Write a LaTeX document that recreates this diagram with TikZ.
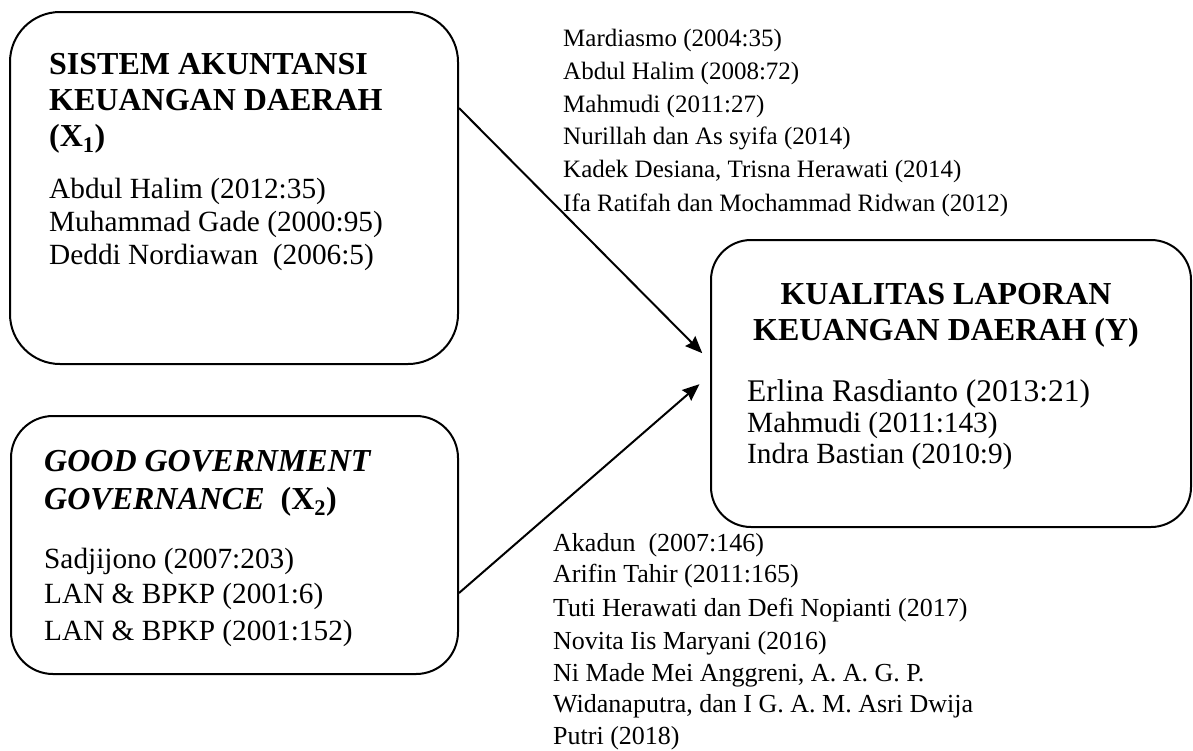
\documentclass[tikz,border=0pt]{standalone}
\usepackage{fontspec}
\setmainfont{Liberation Serif}
\usetikzlibrary{arrows.meta}
\begin{document}
\begin{tikzpicture}[x=1pt,y=-1pt,
  box/.style={draw, line width=2pt, inner sep=0pt},
  ttl/.style={anchor=base west, inner sep=0pt, font=\fontsize{32}{36}\selectfont\bfseries},
  ttlc/.style={anchor=base, inner sep=0pt, font=\fontsize{32}{36}\selectfont\bfseries},
  ref/.style={anchor=base west, inner sep=0pt, font=\fontsize{29.3}{33}\selectfont},
  refbig/.style={anchor=base west, inner sep=0pt, font=\fontsize{31.5}{35}\selectfont},
  topref/.style={anchor=base west, inner sep=0pt, font=\fontsize{25}{30}\selectfont},
  botref/.style={anchor=base west, inner sep=0pt, font=\fontsize{26}{30}\selectfont},
  arr/.style={line width=2pt, -{Stealth[inset=2pt,length=17pt,width=14pt]}}]
\useasboundingbox (0,0) rectangle (1193,750);
% boxes
\node[box, rounded corners=50pt, minimum width=448pt, minimum height=352pt] (box1) at (234,188) {};
\node[box, rounded corners=42pt, minimum width=447pt, minimum height=258pt] (box2) at (234.5,545) {};
\node[box, rounded corners=40pt, minimum width=480pt, minimum height=287pt] (boxY) at (951,383.5) {};
% box 1 text
\node[ttl] (t1a) at (49,74) {SISTEM AKUNTANSI};
\node[ttl] (t1b) at (49,110) {KEUANGAN DAERAH};
\node[ttl] (t1c) at (49,146) {(X\textsubscript{1})};
\node[ref] (r1a) at (49,198) {Abdul Halim (2012:35)};
\node[ref] (r1b) at (49,231) {Muhammad Gade (2000:95)};
\node[ref] (r1c) at (49,264) {Deddi Nordiawan\ \ (2006:5)};
% box 2 text
\node[ttl] (t2a) at (44,471) {\itshape GOOD GOVERNMENT};
\node[ttl] (t2b) at (44,509) {\itshape GOVERNANCE\ \ \upshape(X\textsubscript{2})};
\node[ref] (r2a) at (44,568) {Sadjijono (2007:203)};
\node[ref] (r2b) at (44,603) {LAN \& BPKP (2001:6)};
\node[ref] (r2c) at (44,640) {LAN \& BPKP (2001:152)};
% box Y text
\node[ttlc] (tya) at (946,304) {KUALITAS LAPORAN};
\node[ttlc] (tyb) at (946,340) {KEUANGAN DAERAH (Y)};
\node[refbig] (rya) at (747,401) {Erlina Rasdianto (2013:21)};
\node[ref] (ryb) at (747,432) {Mahmudi (2011:143)};
\node[ref] (ryc) at (747,463) {Indra Bastian (2010:9)};
% top references
\node[topref] (ta) at (563,46) {Mardiasmo (2004:35)};
\node[topref] (tb) at (563,79) {Abdul Halim (2008:72)};
\node[topref] (tc) at (563,112) {Mahmudi (2011:27)};
\node[topref] (td) at (563,144) {Nurillah dan As syifa (2014)};
\node[topref] (te) at (563,177) {Kadek Desiana, Trisna Herawati (2014)};
\node[topref] (tf) at (563,211) {Ifa Ratifah dan Mochammad Ridwan (2012)};
% bottom references
\node[botref] (ba) at (553,551) {Akadun\ \ (2007:146)};
\node[botref] (bb) at (553,582) {Arifin Tahir (2011:165)};
\node[botref] (bc) at (553,616) {Tuti Herawati dan Defi Nopianti (2017)};
\node[botref] (bd) at (553,649) {Novita Iis Maryani (2016)};
\node[botref] (be) at (553,681) {Ni Made Mei Anggreni, A. A. G. P.};
\node[botref] (bf) at (553,712) {Widanaputra, dan I G. A. M. Asri Dwija};
\node[botref] (bg) at (553,744) {Putri (2018)};
% arrows
\draw[arr, shorten >=11pt] (box1.east |- 0,108) -- (boxY.west |- 0,361);
\draw[arr, shorten >=14pt] (box2.east |- 0,593) -- (boxY.west |- 0,375);
\end{tikzpicture}
\end{document}
